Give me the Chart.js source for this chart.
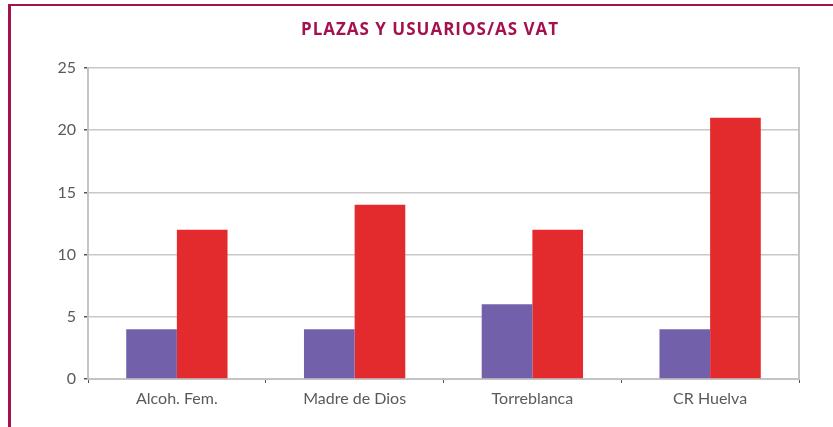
<!DOCTYPE html>
<html>
<head>
<meta charset="utf-8">
<script src="https://cdn.jsdelivr.net/npm/chart.js@4"></script>
<style>
    html, body { margin: 0; padding: 0; background: #fff; }
    #wrap { position: relative; width: 833px; height: 427px; }
    #frame {
        position: absolute; left: 8px; top: 4px; width: 830px; height: 430px;
        border-left: 3px solid #a3124f; border-top: 2px solid #a3124f;
        pointer-events: none;
    }
</style>
</head>
<body>
<div id="wrap">
    <canvas id="chart" width="833" height="427"></canvas>
    <div id="frame"></div>
</div>
<script>
const categories = ["Alcoh. Fem.", "Madre de Dios", "Torreblanca", "CR Huelva"];
const plazas = [4, 4, 6, 4];
const usuarios = [12, 14, 12, 21];
const yTicks = [0, 5, 10, 15, 20, 25];
const chartTitle = "PLAZAS Y USUARIOS/AS VAT";

const tickFont = { family: "Lato, 'Open Sans', sans-serif", size: 16 };
const textColor = "#5a5a5a";

// Title is off-centre in the original, so it is drawn by hand
const titlePlugin = {
    id: "offsetTitle",
    afterDraw(chart) {
        const ctx = chart.ctx;
        ctx.save();
        ctx.font = "bold 17px 'Open Sans', Lato, sans-serif";
        ctx.letterSpacing = "1px";
        ctx.fillStyle = "#a3124f";
        ctx.textAlign = "center";
        ctx.textBaseline = "middle";
        ctx.fillText(chartTitle, 430, 30);
        ctx.restore();
    }
};

new Chart(document.getElementById("chart"), {
    type: "bar",
    data: {
        labels: categories,
        datasets: [
            { label: "Plazas", data: plazas, backgroundColor: "#7360ab" },
            { label: "Usuarios/as", data: usuarios, backgroundColor: "#e32b2d" }
        ]
    },
    options: {
        responsive: false,
        animation: false,
        layout: { padding: { left: 0, right: 34, top: 68, bottom: 0 } },
        datasets: {
            bar: { barPercentage: 1, categoryPercentage: 0.57 }
        },
        scales: {
            x: {
                grid: { drawOnChartArea: false, drawTicks: true, tickLength: 4, color: "#555" },
                border: { color: "#c4c4c4", width: 2 },
                ticks: { font: tickFont, color: textColor, padding: 6 },
                afterFit: scale => { scale.height = 48; }
            },
            y: {
                min: 0,
                max: 25,
                afterBuildTicks: scale => { scale.ticks = yTicks.map(v => ({ value: v })); },
                grid: { color: "#c8c8c8", lineWidth: 1.5, tickLength: 4, tickColor: "#555" },
                border: { color: "#c4c4c4", width: 2 },
                ticks: { font: tickFont, color: textColor, padding: 8 },
                afterFit: scale => { scale.width = 88; }
            },
            yRight: {
                position: "right",
                min: 0,
                max: 25,
                grid: { drawOnChartArea: false, drawTicks: false },
                border: { color: "#c4c4c4", width: 2 },
                ticks: { display: false },
                afterFit: scale => { scale.width = 0; }
            }
        },
        plugins: {
            legend: { display: false },
            tooltip: { enabled: false },
            title: { display: false }
        }
    },
    plugins: [titlePlugin]
});
</script>
</body>
</html>
